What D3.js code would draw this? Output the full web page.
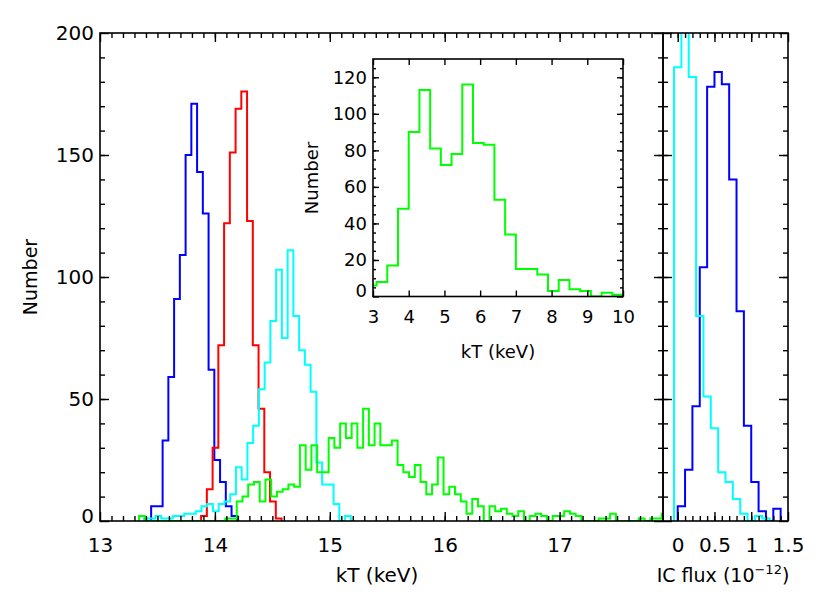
<!DOCTYPE html>
<html>
<head>
<meta charset="utf-8">
<script src="https://cdn.jsdelivr.net/npm/d3@7"></script>
<style>
  body { margin: 0; background: #fff; }
  svg { display: block; }
</style>
</head>
<body>
<div id="draw"></div>
<script>
// histogram bins: start edge + constant width, counts per bin
const kTBinWidth = 0.05
const blueStart = 13.445
const blueCounts = [6, 6, 33, 59, 91, 109, 150, 171, 143, 126, 62, 25, 16, 6, 2]
const redStart = 13.88
const redCounts = [2, 13, 30, 72, 122, 151, 169, 176, 123, 72, 46, 20, 8, 1]
const cyanStart = 13.383
const cyanCounts = [1, 1, 2, 1, 1, 2, 2, 3, 3, 4, 6, 7, 4, 7, 8, 11, 22, 17, 32, 39, 54, 65,
  82, 103, 75, 111, 84, 70, 64, 53, 24, 15, 15, 7, 0, 2]
const greenStart = 13.34
const greenCounts = [2, 0, 0, 0, 0, 0, 0, 0, 0, 0, 0, 0, 0, 0, 0, 1, 1, 8, 10, 15, 16, 8, 17,
  10, 12, 13, 15, 14, 31, 21, 31, 20, 20, 34, 30, 40, 34, 40, 30, 46, 31, 40, 31, 31, 33, 23,
  20, 18, 23, 16, 11, 15, 26, 11, 14, 11, 8, 3, 9, 6, 0, 6, 4, 5, 3, 2, 4, 0, 2, 3, 2, 0, 2,
  2, 4, 3, 2, 0, 0, 0, 1, 1, 3, 0, 0, 0, 0, 1, 0, 1, 1, 3]

// IC flux panel
const icBinWidth = 0.1
const icBlueStart = 0.0
const icBlueCounts = [6, 21, 47, 104, 178, 184, 179, 140, 86, 39, 16, 4, 0, 5]
const icCyanStart = -0.05
const icCyanCounts = [186, 236, 182, 84, 51, 38, 20, 16, 9, 3, 0, 2, 1]

// inset
const insetBinWidth = 0.3
const insetStart = 2.8
const insetCounts = [6, 8, 17, 48, 90, 113, 81, 72, 78, 116, 84, 83, 53, 34, 15, 15, 12, 3, 9,
  4, 3, 0, 2, 1]

const kTTicks = [13, 14, 15, 16, 17]
const countTicks = [0, 50, 100, 150, 200]
const icTicks = [0, 0.5, 1, 1.5]
const insetKTTicks = [3, 4, 5, 6, 7, 8, 9, 10]
const insetCountTicks = [0, 20, 40, 60, 80, 100, 120]

const FONT = 'DejaVu Sans, sans-serif'

let svg = d3.select('#draw')
  .append('svg')
  .attr('width', 830)
  .attr('height', 593)

svg.append('rect').attr('width', 830).attr('height', 593).attr('fill', '#fff')

let plotTop = 33
let plotBottom = 521

let x = d3.scaleLinear().domain([13, 17.9]).range([100, 663])
let y = d3.scaleLinear().domain([0, 200]).range([plotBottom, plotTop])
let xIC = d3.scaleLinear().domain([-0.2, 1.5]).range([663, 788])

let xIn = d3.scaleLinear().domain([3, 10]).range([373, 623])
let yIn = d3.scaleLinear().domain([0, 130]).range([296.5, 59])

function stepPoints (start, width, counts) {
  let pts = [[start, 0]]
  counts.forEach(function (c, i) { pts.push([start + i * width, c]) })
  pts.push([start + counts.length * width, 0])
  return pts
}

function histLine (xs, ys) {
  return d3.line()
    .x(function (d) { return xs(d[0]) })
    .y(function (d) { return ys(d[1]) })
    .curve(d3.curveStepAfter)
}

function clip (id, xs, ys) {
  svg.append('clipPath').attr('id', id)
    .append('rect')
    .attr('x', xs.range()[0]).attr('y', ys.range()[1])
    .attr('width', xs.range()[1] - xs.range()[0])
    .attr('height', ys.range()[0] - ys.range()[1])
}

clip('clipMain', x, y)
clip('clipIC', xIC, y)

let mainG = svg.append('g').attr('clip-path', 'url(#clipMain)')
let series = [
  { start: blueStart, counts: blueCounts, color: '#0000ff' },
  { start: redStart, counts: redCounts, color: '#ff0000' },
  { start: cyanStart, counts: cyanCounts, color: '#00ffff' },
  { start: greenStart, counts: greenCounts, color: '#00ff00' }
]
series.forEach(function (s) {
  mainG.append('path')
    .datum(stepPoints(s.start, kTBinWidth, s.counts))
    .attr('d', histLine(x, y))
    .attr('fill', 'none')
    .attr('stroke', s.color)
    .attr('stroke-width', 2)
})

let icG = svg.append('g').attr('clip-path', 'url(#clipIC)')
icG.append('path')
  .datum(stepPoints(icBlueStart, icBinWidth, icBlueCounts))
  .attr('d', histLine(xIC, y))
  .attr('fill', 'none').attr('stroke', '#0000ff').attr('stroke-width', 2)
icG.append('path')
  .datum(stepPoints(icCyanStart, icBinWidth, icCyanCounts))
  .attr('d', histLine(xIC, y))
  .attr('fill', 'none').attr('stroke', '#00ffff').attr('stroke-width', 2)

// frame with inward ticks on all four sides
function frame (xs, ys, o) {
  let g = svg.append('g')
  let [x0, x1] = xs.range()
  let [y0, y1] = ys.range()
  let xMinor = o.xMinor.filter(function (v) { return xs(v) > x0 + 0.5 && xs(v) < x1 - 0.5 })
  let yMinor = o.yMinor.filter(function (v) { return ys(v) < y0 - 0.5 && ys(v) > y1 + 0.5 })

  let parts = [
    [d3.axisBottom(xs).tickValues(o.xMajor).tickSizeInner(-o.major).tickPadding(o.xPad)
      .tickFormat(o.xLabels ? o.xFormat : ''), 'translate(0,' + y0 + ')'],
    [d3.axisBottom(xs).tickValues(xMinor).tickSizeInner(-o.minor).tickFormat(''), 'translate(0,' + y0 + ')'],
    [d3.axisTop(xs).tickValues(o.xMajor).tickSizeInner(-o.major).tickFormat(''), 'translate(0,' + y1 + ')'],
    [d3.axisTop(xs).tickValues(xMinor).tickSizeInner(-o.minor).tickFormat(''), 'translate(0,' + y1 + ')'],
    [d3.axisLeft(ys).tickValues(o.yMajor).tickSizeInner(-o.major).tickPadding(o.yPad)
      .tickFormat(o.yLabels ? d3.format('d') : ''), 'translate(' + x0 + ',0)'],
    [d3.axisLeft(ys).tickValues(yMinor).tickSizeInner(-o.minor).tickFormat(''), 'translate(' + x0 + ',0)'],
    [d3.axisRight(ys).tickValues(o.yMajor).tickSizeInner(-o.major).tickFormat(''), 'translate(' + x1 + ',0)'],
    [d3.axisRight(ys).tickValues(yMinor).tickSizeInner(-o.minor).tickFormat(''), 'translate(' + x1 + ',0)']
  ]
  parts.forEach(function (p) {
    let a = g.append('g')
      .attr('transform', p[1])
      .call(p[0].tickSizeOuter(0))
    a.select('.domain').remove()
    a.selectAll('line').attr('stroke', '#000').attr('stroke-width', 1.4)
    a.attr('font-family', FONT).attr('font-size', o.fontSize)
    a.selectAll('text').attr('fill', '#000')
  })

  g.append('rect')
    .attr('x', x0).attr('y', y1)
    .attr('width', x1 - x0).attr('height', y0 - y1)
    .attr('fill', 'none').attr('stroke', '#000').attr('stroke-width', 1.6)
  return g
}

let mainFrame = frame(x, y, {
  xMajor: kTTicks, xMinor: d3.range(130, 180).map(function (v) { return v / 10 }),
  yMajor: countTicks, yMinor: d3.range(0, 201, 10),
  major: 9, minor: 5, xPad: 17, yPad: 6, fontSize: 20,
  xLabels: true, yLabels: true, xFormat: d3.format('d')
})
// zero label sits just above the baseline
mainFrame.selectAll('text').filter(function (d) { return d === 0 && this.getAttribute('dy') === '0.32em' })
  .attr('y', -5)

frame(xIC, y, {
  xMajor: icTicks, xMinor: d3.range(-2, 16).map(function (v) { return v / 10 }),
  yMajor: countTicks, yMinor: d3.range(0, 201, 10),
  major: 9, minor: 5, xPad: 17, yPad: 6, fontSize: 20,
  xLabels: true, yLabels: false, xFormat: function (d) { return String(d) }
})

// inset box
svg.append('rect')
  .attr('x', xIn.range()[0]).attr('y', yIn.range()[1])
  .attr('width', xIn.range()[1] - xIn.range()[0])
  .attr('height', yIn.range()[0] - yIn.range()[1])
  .attr('fill', '#fff')

clip('clipInset', xIn, yIn)
svg.append('g').attr('clip-path', 'url(#clipInset)')
  .append('path')
  .datum(stepPoints(insetStart, insetBinWidth, insetCounts))
  .attr('d', histLine(xIn, yIn))
  .attr('fill', 'none').attr('stroke', '#00ff00').attr('stroke-width', 2)

let insetFrame = frame(xIn, yIn, {
  xMajor: insetKTTicks, xMinor: [],
  yMajor: insetCountTicks, yMinor: d3.range(0, 131, 5),
  major: 6, minor: 3, xPad: 14, yPad: 6, fontSize: 18,
  xLabels: true, yLabels: true, xFormat: d3.format('d')
})
insetFrame.selectAll('text').filter(function (d) { return d === 0 && this.getAttribute('dy') === '0.32em' })
  .attr('y', -6)

// axis titles
function label (tx, ty, size, text, rotate) {
  return svg.append('text')
    .attr('transform', 'translate(' + tx + ',' + ty + ')' + (rotate ? ' rotate(-90)' : ''))
    .attr('text-anchor', 'middle')
    .attr('font-family', FONT)
    .attr('font-size', size)
    .attr('fill', '#000')
    .text(text)
}

label(377, 582, 20, 'kT (keV)')
label(37, 277, 19, 'Number', true)
label(498, 358, 18, 'kT (keV)')
label(318, 178, 18, 'Number', true)

let ic = label(723, 582, 19, 'IC flux (10')
ic.append('tspan').attr('dy', -8).attr('font-size', 13).text('−12')
ic.append('tspan').attr('dy', 8).text(')')
</script>
</body>
</html>
